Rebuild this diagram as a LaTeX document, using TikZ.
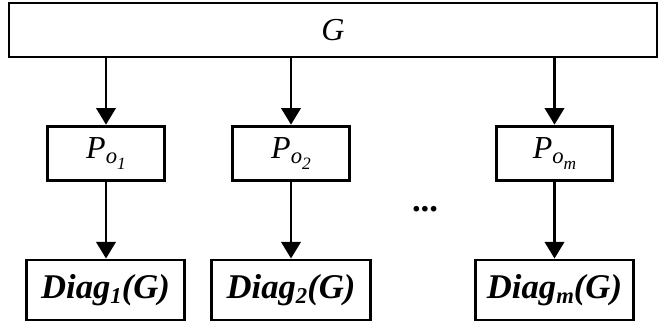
\documentclass[tikz,border=0pt]{standalone}
\usepackage{fontspec}
\setmainfont{Liberation Serif}
\usetikzlibrary{arrows.meta, positioning}

\newcommand{\sub}[1]{\raisebox{-0.3ex}{\fontsize{17}{17}\selectfont #1}}
\newcommand{\subsub}[1]{\raisebox{-0.55ex}{\fontsize{13}{13}\selectfont #1}}

\begin{document}
\begin{tikzpicture}[
  x=0.75pt, y=-0.75pt,
  font=\fontsize{24}{28}\selectfont\itshape,
  top/.style={draw, minimum width=486pt, minimum height=40.5pt,
              inner sep=0pt, line width=2.2pt},
  proj/.style={draw, minimum width=87.5pt, minimum height=41pt,
               inner sep=0pt, line width=2.2pt},
  diag/.style={draw, minimum width=119pt, minimum height=45pt,
               inner sep=0pt, line width=2.2pt, font=\fontsize{26}{30}\selectfont\bfseries\itshape},
  arr/.style={-{Triangle[width=14.5pt, length=12.5pt]}, line width=2.2pt}
]
\useasboundingbox (0,0) rectangle (659,324);

%% ——— Grafo completo ———
\node[top] (g) at (333, 30) {G};

%% ——— Proyecciones ———
\node[proj] (p1) at (106,   153.5) {P\sub{o\subsub{1}}};
\node[proj] (p2) at (291,   153.5) {P\sub{o\subsub{2}}};
\node[proj] (pm) at (554.5, 153.5) {P\sub{o\subsub{m}}};

%% ——— Diagramas ———
\node[diag] (d1) at (105.5, 290) {Diag\sub{1}(G)};
\node[diag] (d2) at (291,   290) {Diag\sub{2}(G)};
\node[diag] (dm) at (554.5, 290) {Diag\sub{m}(G)};

\node[font=\fontsize{26}{30}\selectfont\bfseries] (dots) at (425, 209) {...};

%% ——— Flechas ———
\draw[arr] (g.south -| p1) -- (p1.north);
\draw[arr] (g.south -| p2) -- (p2.north);
\draw[arr] (g.south -| pm) -- (pm.north);

\draw[arr] (p1.south) -- (p1.south |- d1.north);
\draw[arr] (p2.south) -- (p2.south |- d2.north);
\draw[arr] (pm.south) -- (pm.south |- dm.north);

\end{tikzpicture}
\end{document}
